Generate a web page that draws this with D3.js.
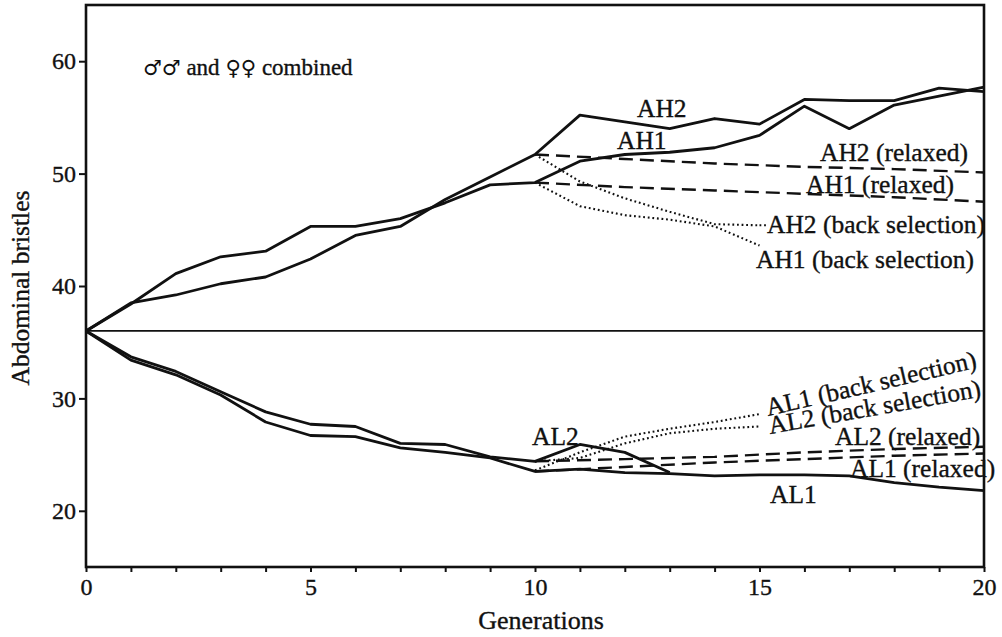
<!DOCTYPE html>
<html>
<head>
<meta charset="utf-8">
<script src="https://cdn.jsdelivr.net/npm/d3@7"></script>
<style>
  html, body { margin: 0; padding: 0; background: #fff; }
  svg text { font-family: "Liberation Serif", "DejaVu Serif", serif; fill: #111; stroke: #111; stroke-width: 0.35px; }
  svg text tspan.sym { font-family: "DejaVu Sans", sans-serif; stroke-width: 0; }
</style>
</head>
<body>
<svg id="chart" width="1002" height="637"></svg>
<script>
// Generations of selection
const generations = [0,1,2,3,4,5,6,7,8,9,10,11,12,13,14,15,16,17,18,19,20];

// Mean abdominal bristle number, selected lines (sexes combined)
const AH1 = [36, 38.4, 41.1, 42.6, 43.1, 45.3, 45.3, 46.0, 47.4, 49.0, 49.2,
             51.1, 51.7, 51.9, 52.3, 53.4, 56.0, 54.0, 56.1, 56.9, 57.7];
const AH2 = [36, 38.5, 39.2, 40.2, 40.8, 42.4, 44.5, 45.3, 47.7, 49.7, 51.7,
             55.2, 54.6, 54.0, 54.9, 54.4, 56.6, 56.5, 56.5, 57.6, 57.3];
const AL1 = [36, 33.4, 32.1, 30.3, 27.9, 26.7, 26.6, 25.6, 25.2, 24.7, 23.5,
             23.7, 23.4, 23.3, 23.1, 23.2, 23.2, 23.1, 22.5, 22.1, 21.8];
const AL2 = [36, 33.7, 32.4, 30.6, 28.8, 27.7, 27.5, 26.0, 25.9, 24.8, 24.4,
             25.9, 25.2, 23.4];

// Relaxed lines (selection stopped at generation 10)
const relaxedGens = [10, 12, 14, 16, 18, 20];
const AH1relaxed = [49.2, 48.8, 48.5, 48.2, 47.9, 47.5];
const AH2relaxed = [51.7, 51.3, 50.9, 50.6, 50.4, 50.1];
const AL1relaxed = [23.5, 23.9, 24.3, 24.6, 24.9, 25.1];
const AL2relaxed = [24.4, 24.6, 24.8, 25.2, 25.5, 25.7];

// Back selection from generation 10
const backGens = [10, 11, 12, 13, 14, 15];
const AH1back = [49.2, 47.1, 46.3, 45.9, 45.3, 43.6];
const AH2back = [51.7, 49.3, 47.8, 46.6, 45.5, 45.4];
const AL1back = [23.6, 25.2, 26.6, 27.3, 27.9, 28.6];
const AL2back = [24.4, 24.7, 26.0, 26.9, 27.3, 27.5];

const baseValue = 36;
const yTicks = [20, 30, 40, 50, 60];
const xTickLabels = [0, 5, 10, 15, 20];

const svg = d3.select("#chart");
const x = d3.scaleLinear().domain([0, 20]).range([86, 984]);
const y = d3.scaleLinear().domain([15, 65]).range([567, 5]);

const zip = (gs, vs) => vs.map((v, i) => [gs[i], v]);
const line = d3.line().x(d => x(d[0])).y(d => y(d[1]));
const serif = '"Liberation Serif", "DejaVu Serif", serif';

// Frame
svg.append("rect")
  .attr("x", x(0)).attr("y", y(65))
  .attr("width", x(20) - x(0)).attr("height", y(15) - y(65))
  .attr("fill", "none").attr("stroke", "#111").attr("stroke-width", 2.6);

// Axes
const xAxis = d3.axisBottom(x)
  .tickValues(generations)
  .tickSize(5)
  .tickFormat(d => xTickLabels.includes(d) ? d : "");
const gx = svg.append("g").attr("transform", `translate(0,${y(15)})`).call(xAxis)
  .attr("font-family", serif);
gx.select(".domain").remove();
gx.selectAll(".tick line").attr("stroke", "#111").attr("stroke-width", 2);
gx.selectAll(".tick text").attr("font-size", 24).attr("dy", "0.85em")
  .style("font-family", serif);

const yAxis = d3.axisLeft(y).tickValues(yTicks).tickSize(7).tickPadding(3);
const gy = svg.append("g").attr("transform", `translate(${x(0)},0)`).call(yAxis)
  .attr("font-family", serif);
gy.select(".domain").remove();
gy.selectAll(".tick line").attr("stroke", "#111").attr("stroke-width", 2);
gy.selectAll(".tick text").attr("font-size", 24).style("font-family", serif);

// Axis titles
svg.append("text")
  .attr("transform", "translate(29,288) rotate(-90)")
  .attr("text-anchor", "middle").attr("font-size", 25.5)
  .text("Abdominal bristles");
svg.append("text")
  .attr("x", 541).attr("y", 629)
  .attr("text-anchor", "middle").attr("font-size", 26)
  .text("Generations");

// Base population level
svg.append("path")
  .datum([[0, baseValue], [20, baseValue]])
  .attr("d", line).attr("fill", "none")
  .attr("stroke", "#111").attr("stroke-width", 1.7);

// Selected lines
[AH1, AH2, AL1, AL2].forEach(vals => {
  svg.append("path").datum(zip(generations, vals))
    .attr("d", line).attr("fill", "none")
    .attr("stroke", "#111").attr("stroke-width", 2.8)
    .attr("stroke-linejoin", "round");
});

// Relaxed lines (dashed)
[AH1relaxed, AH2relaxed, AL1relaxed, AL2relaxed].forEach(vals => {
  svg.append("path").datum(zip(relaxedGens, vals))
    .attr("d", line).attr("fill", "none")
    .attr("stroke", "#111").attr("stroke-width", 2.4)
    .attr("stroke-dasharray", "14,7");
});

// Back selection lines (dotted)
[AH1back, AH2back, AL1back, AL2back].forEach(vals => {
  svg.append("path").datum(zip(backGens, vals))
    .attr("d", line).attr("fill", "none")
    .attr("stroke", "#111").attr("stroke-width", 2.1)
    .attr("stroke-dasharray", "1.8,2.8");
});

// Leader from the AH2 back-selection line to its label
svg.append("path")
  .datum([[15, AH2back[AH2back.length - 1]], [15.15, AH2back[AH2back.length - 1]]])
  .attr("d", line).attr("fill", "none")
  .attr("stroke", "#111").attr("stroke-width", 2.1).attr("stroke-dasharray", "1.8,2.8");

// Note: both sexes combined
const note = svg.append("text").attr("x", 143).attr("y", 75).attr("font-size", 23);
note.append("tspan").attr("class", "sym").attr("font-size", 21).text("♂♂");
note.append("tspan").text("  and ");
note.append("tspan").attr("class", "sym").attr("font-size", 21).text("♀♀");
note.append("tspan").text(" combined");

// Line labels
const labels = [
  {t: "AH2", px: 637, py: 117, r: 0},
  {t: "AH1", px: 617, py: 149, r: 0},
  {t: "AH2 (relaxed)", px: 820, py: 161, r: 0},
  {t: "AH1 (relaxed)", px: 806, py: 193, r: 0},
  {t: "AH2 (back selection)", px: 767, py: 233, r: 0},
  {t: "AH1 (back selection)", px: 756, py: 268, r: 0},
  {t: "AL1 (back selection)", px: 768, py: 416, r: -13},
  {t: "AL2 (back selection)", px: 770, py: 434, r: -10},
  {t: "AL2 (relaxed)", px: 835, py: 445, r: 0},
  {t: "AL1 (relaxed)", px: 850, py: 477, r: 0},
  {t: "AL2", px: 532, py: 445, r: 0},
  {t: "AL1", px: 770, py: 503, r: 0}
];
labels.forEach(l => {
  svg.append("text")
    .attr("transform", `translate(${l.px},${l.py}) rotate(${l.r})`)
    .attr("font-size", 25.5)
    .text(l.t);
});
</script>
</body>
</html>
